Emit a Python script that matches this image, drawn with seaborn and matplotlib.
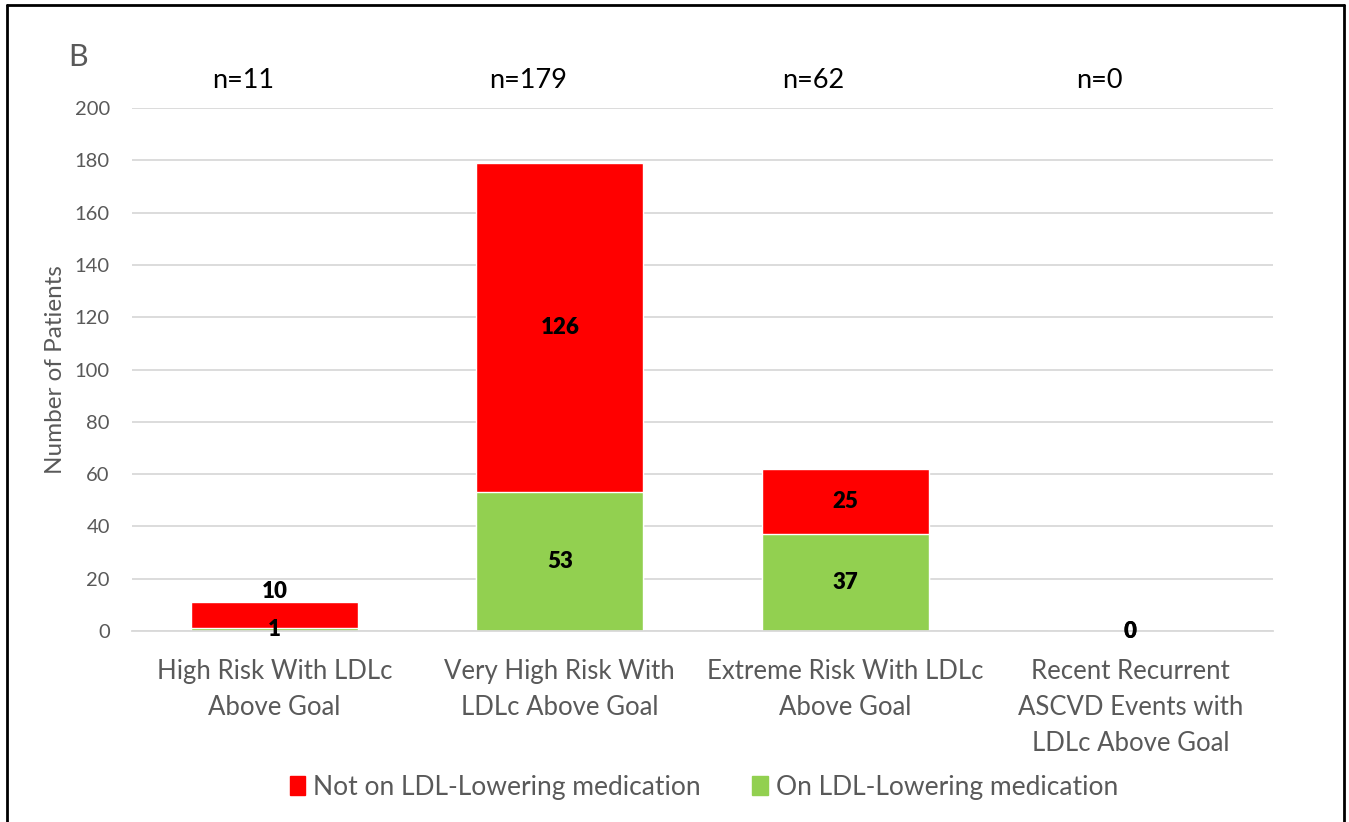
import numpy as np
import pandas as pd
import matplotlib.pyplot as plt
from matplotlib.lines import Line2D
from matplotlib.patches import Patch
import seaborn as sns

categories = ["High Risk With LDLc\nAbove Goal",
              "Very High Risk With\nLDLc Above Goal",
              "Extreme Risk With LDLc\nAbove Goal",
              "Recent Recurrent\nASCVD Events with\nLDLc Above Goal"]
on_med = [1, 53, 37, 0]
not_on_med = [10, 126, 25, 0]
legend_labels = ["Not on LDL-Lowering medication", "On LDL-Lowering medication"]

RED = "#FF0000"
GREEN = "#92D050"
GREY = "#595959"

totals = np.array(on_med) + np.array(not_on_med)
df = pd.DataFrame({"category": categories, "on": on_med, "total": totals})

sns.set_style("white")
plt.rcParams['font.family'] = ['Lato', 'DejaVu Sans']

W, H = 1349, 822
fig = plt.figure(figsize=(W / 100, H / 100), dpi=100)
ax = fig.add_axes([132 / W, 1 - 631 / H, 1141 / W, 523 / H])

# stacked: full total in red, on-med portion in green drawn over it
sns.barplot(data=df, x="category", y="total", color=RED, width=0.585,
            saturation=1, errorbar=None, ax=ax)
sns.barplot(data=df, x="category", y="on", color=GREEN, width=0.585,
            saturation=1, errorbar=None, ax=ax)

ax.set_ylim(0, 200)
ax.set_yticks(range(0, 201, 20))
ax.yaxis.grid(True, color="#D9D9D9", lw=1.3)
ax.set_axisbelow(True)
for s in ["left", "right", "top"]:
    ax.spines[s].set_visible(False)
ax.spines["bottom"].set_color("#D9D9D9")
ax.spines["bottom"].set_linewidth(1.3)
ax.set_xticks(range(len(categories)), categories, linespacing=1.55)
ax.tick_params(axis="y", length=0, labelsize=14.5, labelcolor=GREY, pad=16)
ax.tick_params(axis="x", length=0, labelsize=18.5, labelcolor=GREY, pad=20)
ax.set_xlabel("")
ax.set_ylabel("Number of Patients", fontsize=17.5, color=GREY)
ax.yaxis.set_label_coords(-0.058, 0.5)

# value labels
for i in range(len(categories)):
    ax.text(i, on_med[i] / 2, str(on_med[i]), ha="center", va="center",
            fontsize=16, fontweight="heavy", color="black")
    if 0 < not_on_med[i] < 15:
        ax.text(i, totals[i], str(not_on_med[i]), ha="center", va="bottom",
                fontsize=16, fontweight="heavy", color="black")
    else:
        ax.text(i, on_med[i] + not_on_med[i] / 2, str(not_on_med[i]),
                ha="center", va="center", fontsize=16, fontweight="heavy",
                color="black")
    ax.text(i - 0.11, 210.5, f"n={totals[i]}", ha="center", va="center",
            fontsize=19.5, color="black", clip_on=False)

fig.text(78 / W, 1 - 57 / H, "B", fontsize=22, color=GREY,
         ha="center", va="center")

handles = [Patch(color=RED), Patch(color=GREEN)]
fig.legend(handles, legend_labels, loc="center",
           bbox_to_anchor=(704 / W, 1 - 787 / H), ncol=2, frameon=False,
           fontsize=19, handlelength=0.6, handleheight=0.75,
           handletextpad=0.3, columnspacing=1.95, labelcolor=GREY)

# frame around the panel (bottom edge is cut off)
x0, x1, yt = 7 / W, 1344 / W, 1 - 5 / H
for xs, ys in [([x0, x0], [0, yt]), ([x0, x1], [yt, yt]), ([x1, x1], [0, yt])]:
    fig.add_artist(Line2D(xs, ys, transform=fig.transFigure,
                          color="black", lw=2))

fig.savefig("out.png", dpi=100)
